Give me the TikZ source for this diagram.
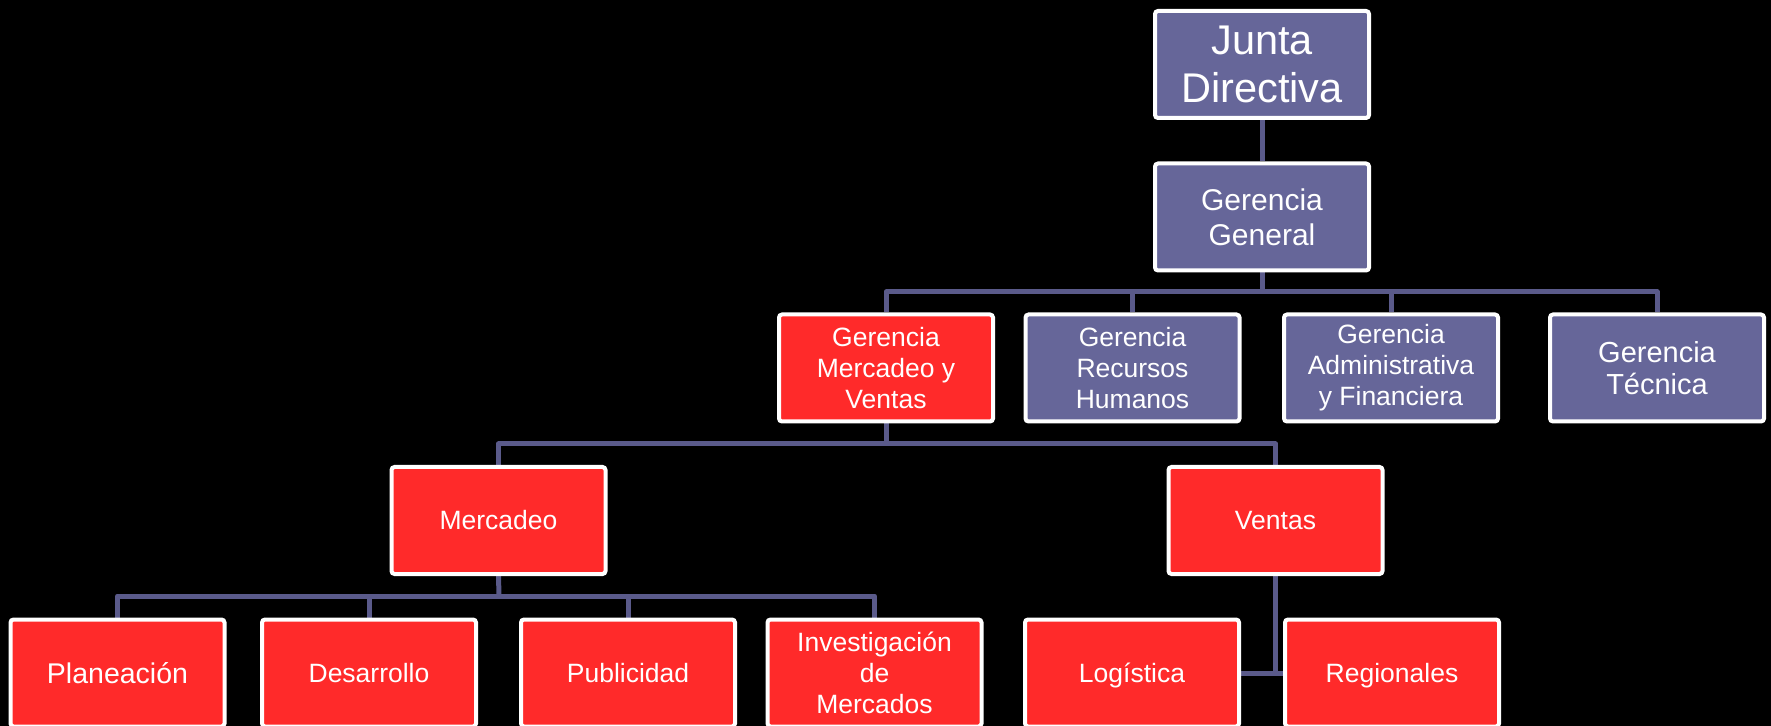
\documentclass[tikz,border=0pt]{standalone}
\usepackage{fontspec}
\setmainfont{Liberation Sans}
\definecolor{boxpurple}{RGB}{102,102,153}
\definecolor{boxred}{RGB}{255,42,42}
\definecolor{linkcol}{RGB}{90,90,138}
\pgfdeclarelayer{bg}
\pgfsetlayers{bg,main}
\begin{document}
\begin{tikzpicture}[x=0.5pt,y=-0.5pt,
  orgbox/.style={draw=white, line width=2pt, rounded corners=1.5pt,
    minimum width=107pt, minimum height=53.5pt, inner sep=1pt,
    align=center, text=white},
  purplebox/.style={orgbox, fill=boxpurple},
  redbox/.style={orgbox, fill=boxred},
  oneline/.style={text height=9.5pt, text depth=0pt},
  onelinebig/.style={text height=10.2pt, text depth=0pt},
  link/.style={draw=linkcol, line width=2.5pt, line join=round},
  fnormal/.style={font=\fontsize{13.25}{15.5}\selectfont},
  fbig/.style={font=\fontsize{14.25}{16}\selectfont},
  ftec/.style={font=\fontsize{14.5}{16}\selectfont},
  fgg/.style={font=\fontsize{15}{17.5}\selectfont},
  fjd/.style={font=\fontsize{20.75}{24}\selectfont}]

\path[clip] (0,0) rectangle (1771,726);

% top levels
\node[purplebox, fjd] (jd) at (1262,64.5) {Junta\\Directiva};
\node[purplebox, fgg] (gg) at (1262,217) {Gerencia\\General};

% second level
\node[redbox, fnormal] (gmv) at (886,368) {Gerencia\\Mercadeo y\\Ventas};
\node[purplebox, fnormal] (grh) at (1132.5,368) {Gerencia\\Recursos\\Humanos};
\node[purplebox, fnormal] (gaf) at (1391,368) {Gerencia\\Administrativa\\y Financiera};
\node[purplebox, ftec] (gt) at (1657,368) {Gerencia\\Técnica};

% third level
\node[redbox, fnormal, oneline] (mer) at (498.5,520.5) {Mercadeo};
\node[redbox, fnormal, oneline] (ven) at (1275.5,520.5) {Ventas};

% fourth level
\node[redbox, fbig, onelinebig] (pla) at (117.5,673) {Planeación};
\node[redbox, fnormal, oneline] (des) at (369,673) {Desarrollo};
\node[redbox, fnormal, oneline] (pub) at (628,673) {Publicidad};
\node[redbox, fnormal] (inv) at (874.5,673) {Investigación\\de\\Mercados};
\node[redbox, fnormal, oneline] (log) at (1132,673) {Logística};
\node[redbox, fnormal, oneline] (reg) at (1392,673) {Regionales};

\coordinate (b1) at (1262,292);
\coordinate (b2) at (886,444);
\coordinate (b3) at (499,596);

\begin{pgfonlayer}{bg}
  \fill[black] (0,0) rectangle (1771,726);
  \draw[link] (jd.south) -- (gg.north);
  \draw[link] (gg.south) -- (b1);
  \draw[link] (gmv.north) |- (b1) -| (gt.north);
  \draw[link] (grh.north) -- (grh.north |- b1);
  \draw[link] (gaf.north) -- (gaf.north |- b1);
  \draw[link] (gmv.south) -- (b2);
  \draw[link] (mer.north) |- (b2) -| (ven.north);
  \draw[link] (mer.south) -- (b3);
  \draw[link] (pla.north) |- (b3) -| (inv.north);
  \draw[link] (des.north) -- (des.north |- b3);
  \draw[link] (pub.north) -- (pub.north |- b3);
  \draw[link] (ven.south) -- (ven.south |- log.east);
  \draw[link] (log.east) -- (reg.west);
\end{pgfonlayer}
\end{tikzpicture}
\end{document}
